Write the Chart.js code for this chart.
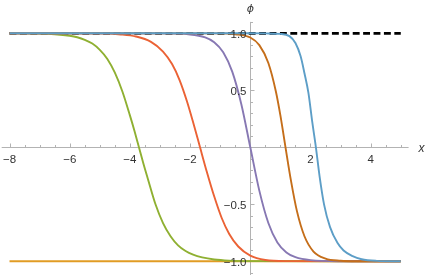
<!DOCTYPE html>
<html><head><meta charset="utf-8">
<script src="https://cdn.jsdelivr.net/npm/chart.js@4/dist/chart.umd.min.js"></script>
<style>html,body{margin:0;padding:0;background:#fff}canvas{display:block}</style>
</head><body>
<canvas id="c" width="425" height="275" style="width:425px;height:275px"></canvas>
<script>
// ---- data ----
const greenX  = [-8, -7, -6.5, -6.0, -5.75, -5.5, -5.25, -5.0, -4.75, -4.5, -4.25, -4.0, -3.85, -3.7, -3.55, -3.4, -3.15, -2.9, -2.65, -2.4, -2.15, -1.9, -1.6, -1.2, -0.7, 0, 5];
const greenY  = [1, 0.998, 0.992, 0.978, 0.965, 0.943, 0.91, 0.855, 0.775, 0.655, 0.49, 0.28, 0.145, 0, -0.145, -0.28, -0.5, -0.665, -0.78, -0.86, -0.91, -0.942, -0.966, -0.984, -0.994, -0.998, -1];

const redX    = [-8, -5, -4.3, -3.8, -3.3, -2.9, -2.6, -2.35, -2.1, -1.9, -1.67, -1.45, -1.2, -0.95, -0.7, -0.4, 0, 0.5, 1.2, 5];
const redY    = [1, 0.999, 0.99, 0.972, 0.925, 0.84, 0.73, 0.59, 0.40, 0.22, 0, -0.21, -0.43, -0.62, -0.76, -0.87, -0.95, -0.988, -0.998, -1];

const purpleX = [-8, -3, -2, -1.5, -1.2, -0.9, -0.6, -0.3, 0, 0.3, 0.6, 0.9, 1.2, 1.5, 2, 3, 5];
const purpleY = [1, 0.999, 0.99, 0.964, 0.922, 0.834, 0.664, 0.38, 0, -0.38, -0.664, -0.834, -0.922, -0.964, -0.99, -0.999, -1];

const brownX  = [-8, -1, -0.5, 0, 0.3, 0.6, 0.85, 1.0, 1.17, 1.35, 1.55, 1.8, 2.1, 2.5, 3, 3.5, 5];
const brownY  = [1, 0.999, 0.992, 0.963, 0.896, 0.74, 0.49, 0.28, 0, -0.29, -0.56, -0.78, -0.914, -0.976, -0.995, -0.9995, -1];

const blueX   = [-8, 0, 0.5, 1.0, 1.3, 1.5, 1.67, 1.8, 1.93, 2.06, 2.18, 2.3, 2.45, 2.65, 2.9, 3.1, 3.4, 3.7, 4.2, 5];
const blueY   = [1, 1, 0.999, 0.995, 0.975, 0.915, 0.80, 0.65, 0.48, 0.22, 0, -0.25, -0.50, -0.70, -0.84, -0.905, -0.955, -0.982, -0.996, -1];

const lowerX  = [-8, 5];
const lowerY  = [-1, -1];
const upperX  = [-8, 5];
const upperY  = [1, 1];

const xTickValues = [-8, -6, -4, -2, 2, 4];
const xTickLabels = ['\u22128', '\u22126', '\u22124', '\u22122', '2', '4'];
const yTickValues = [1, 0.5, -0.5, -1];
const yTickLabels = ['1.0', '0.5', '\u22120.5', '\u22121.0'];
const xAxisLabel = 'x';
const yAxisLabel = '\u03D5';

const pts = (xs, ys) => xs.map((x, i) => ({x: x, y: ys[i]}));

const AXIS_COLOR = '#b3b3b3';
const LABEL_COLOR = '#333333';
const FONT = '"Liberation Sans", "DejaVu Sans", sans-serif';

const mmaAxes = {
  id: 'mmaAxes',
  beforeDatasetsDraw(chart) {
    const ctx = chart.ctx, xs = chart.scales.x, ys = chart.scales.y;
    const x0 = Math.round(xs.getPixelForValue(0)) + 0.5;
    const y0 = Math.round(ys.getPixelForValue(0)) + 0.5;
    ctx.save();
    ctx.strokeStyle = AXIS_COLOR;
    ctx.lineWidth = 1;
    ctx.beginPath();
    ctx.moveTo(xs.getPixelForValue(xs.min), y0);
    ctx.lineTo(xs.getPixelForValue(xs.max), y0);
    ctx.moveTo(x0, ys.getPixelForValue(ys.max));
    ctx.lineTo(x0, ys.getPixelForValue(ys.min));
    for (let k = -16; k <= 10; k++) {
      const v = k / 2;
      if (v === 0) continue;
      const len = xTickValues.includes(v) ? 4 : 2.5;
      const px = Math.round(xs.getPixelForValue(v)) + 0.5;
      ctx.moveTo(px, y0);
      ctx.lineTo(px, y0 - len);
    }
    for (let k = -11; k <= 11; k++) {
      const v = k / 10;
      if (k === 0) continue;
      const major = yTickValues.some(t => Math.abs(t - v) < 1e-9);
      const len = major ? 4 : 2.5;
      const py = Math.round(ys.getPixelForValue(v)) + 0.5;
      ctx.moveTo(x0, py);
      ctx.lineTo(x0 + len, py);
    }
    ctx.stroke();
    ctx.restore();
  },
  afterDatasetsDraw(chart) {
    const ctx = chart.ctx, xs = chart.scales.x, ys = chart.scales.y;
    const x0 = xs.getPixelForValue(0);
    const y0 = ys.getPixelForValue(0);
    ctx.save();
    ctx.fillStyle = LABEL_COLOR;
    ctx.font = '11.5px ' + FONT;
    ctx.textBaseline = 'alphabetic';
    ctx.textAlign = 'center';
    xTickValues.forEach((v, i) => {
      ctx.fillText(xTickLabels[i], xs.getPixelForValue(v), y0 + 16);
    });
    ctx.textAlign = 'right';
    yTickValues.forEach((v, i) => {
      ctx.fillText(yTickLabels[i], x0 - 3.8, ys.getPixelForValue(v) + 4.2);
    });
    ctx.font = 'italic 12px ' + FONT;
    ctx.textAlign = 'left';
    ctx.fillText(xAxisLabel, 418.5, y0 + 4.4);
    ctx.font = 'italic 11px "DejaVu Sans", sans-serif';
    ctx.textAlign = 'center';
    ctx.fillText(yAxisLabel, x0, 11.5);
    ctx.restore();
  }
};

const curve = (xs, ys, color, order) => ({
  data: pts(xs, ys), borderColor: color, backgroundColor: color,
  borderWidth: 1.9, showLine: true, pointRadius: 0, fill: false,
  cubicInterpolationMode: 'monotone', order: order
});

new Chart(document.getElementById('c'), {
  type: 'scatter',
  data: {
    datasets: [
      curve(blueX, blueY, '#5D9EC7', 0),
      curve(brownX, brownY, '#C56E1A', 1),
      curve(purpleX, purpleY, '#8778B3', 2),
      curve(redX, redY, '#EB6235', 3),
      curve(greenX, greenY, '#8FB032', 4),
      curve(lowerX, lowerY, '#E19C24', 5),
      Object.assign(curve(upperX, upperY, '#000000', 6), {borderDash: [6.9, 3.5], borderWidth: 2.8, borderCapStyle: 'butt'})
    ]
  },
  options: {
    responsive: false,
    animation: false,
    devicePixelRatio: 1,
    events: [],
    layout: { padding: { left: 1.7, right: 16.4, top: 21.9, bottom: 0 } },
    plugins: { legend: { display: false }, tooltip: { enabled: false } },
    scales: {
      x: { type: 'linear', min: -8.26, max: 5.26, display: false },
      y: { type: 'linear', min: -1.12, max: 1.10, display: false }
    }
  },
  plugins: [mmaAxes]
});
</script>
</body></html>
